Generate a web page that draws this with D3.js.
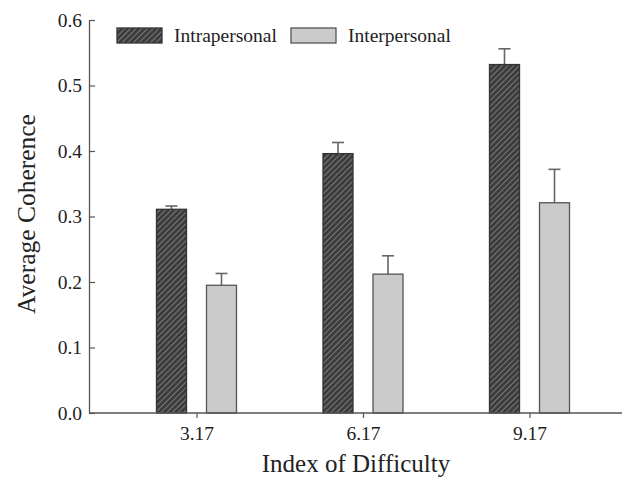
<!DOCTYPE html>
<html>
<head>
<meta charset="utf-8">
<script src="https://cdn.jsdelivr.net/npm/d3@7"></script>
<style>
  body { margin: 0; background: #fff; }
  text { font-family: "Liberation Serif", "Times New Roman", serif; fill: #222; }
</style>
</head>
<body>
<div id="chart"></div>
<script>
// Chart data
var categories = ["3.17", "6.17", "9.17"];
var seriesNames = ["Intrapersonal", "Interpersonal"];
var intraValues = [0.311, 0.396, 0.532];
var intraErrors = [0.005, 0.017, 0.024];
var interValues = [0.195, 0.212, 0.321];
var interErrors = [0.018, 0.028, 0.051];
var yTicks = [0.0, 0.1, 0.2, 0.3, 0.4, 0.5, 0.6];

var svgWidth = 637;
var svgHeight = 482;

var margin = { top: 20, right: 15, bottom: 69, left: 89 };
var chartWidth = svgWidth - margin.left - margin.right;
var chartHeight = svgHeight - margin.top - margin.bottom;

var svg = d3.select("#chart").append("svg")
            .attr("width", svgWidth)
            .attr("height", svgHeight);

// hatch pattern for the intrapersonal bars
var defs = svg.append("defs");
var pattern = defs.append("pattern")
                  .attr("id", "hatch")
                  .attr("patternUnits", "userSpaceOnUse")
                  .attr("width", 4)
                  .attr("height", 4)
                  .attr("patternTransform", "rotate(45)");
pattern.append("rect")
       .attr("width", 4).attr("height", 4)
       .attr("fill", "#3c3c3c");
pattern.append("line")
       .attr("x1", 0).attr("y1", 0)
       .attr("x2", 0).attr("y2", 4)
       .attr("stroke", "#8a8a8a")
       .attr("stroke-width", 1.6);

var chartGroup = svg.append("g")
                    .attr("transform", `translate(${margin.left}, ${margin.top})`);

// Scales
var xScale = d3.scalePoint()
               .domain(categories)
               .range([107.5, 440.5]);
var yScale = d3.scaleLinear()
               .domain([0, 0.6])
               .range([chartHeight, 0]);

var barWidth = 30;
var offset = 25;

var data = categories.map(function(c, i) {
  return [
    { cat: c, key: seriesNames[0], value: intraValues[i], err: intraErrors[i], dx: -offset },
    { cat: c, key: seriesNames[1], value: interValues[i], err: interErrors[i], dx: offset }
  ];
}).flat();

var fillFor = function(key) { return key === "Intrapersonal" ? "url(#hatch)" : "#cbcbcb"; };
var strokeFor = function(key) { return key === "Intrapersonal" ? "#333" : "#555"; };

// Error bars (drawn first, bar covers the lower half)
var errGroup = chartGroup.selectAll(".err")
                         .data(data)
                         .enter()
                         .append("g")
                         .classed("err", true);
errGroup.append("line")
        .attr("x1", d => xScale(d.cat) + d.dx)
        .attr("x2", d => xScale(d.cat) + d.dx)
        .attr("y1", d => yScale(d.value))
        .attr("y2", d => yScale(d.value + d.err))
        .attr("stroke", "#666")
        .attr("stroke-width", 1.6);
errGroup.append("line")
        .attr("x1", d => xScale(d.cat) + d.dx - 6)
        .attr("x2", d => xScale(d.cat) + d.dx + 6)
        .attr("y1", d => yScale(d.value + d.err))
        .attr("y2", d => yScale(d.value + d.err))
        .attr("stroke", "#666")
        .attr("stroke-width", 1.6);

// Bars
chartGroup.selectAll(".bar")
          .data(data)
          .enter()
          .append("rect")
          .classed("bar", true)
          .attr("x", d => xScale(d.cat) + d.dx - barWidth / 2)
          .attr("y", d => yScale(d.value))
          .attr("width", barWidth)
          .attr("height", d => chartHeight - yScale(d.value))
          .attr("fill", d => fillFor(d.key))
          .attr("stroke", d => strokeFor(d.key))
          .attr("stroke-width", 1.3);

// Y axis, ticks pointing inward
var yAxis = chartGroup.append("g")
                      .call(d3.axisLeft(yScale)
                              .tickValues(yTicks)
                              .tickFormat(d3.format(".1f"))
                              .tickSizeInner(-6)
                              .tickSizeOuter(0)
                              .tickPadding(7));
yAxis.select(".domain").attr("stroke", "#555").attr("stroke-width", 1.3);
yAxis.selectAll(".tick line").attr("stroke", "#555").attr("stroke-width", 1.2);
yAxis.selectAll("text")
     .attr("font-size", "19.5px")
     .attr("fill", "#222");

// X axis, line runs across the whole plot width
var xAxis = chartGroup.append("g")
                      .attr("transform", `translate(0, ${chartHeight})`)
                      .call(d3.axisBottom(xScale)
                              .tickSizeInner(5)
                              .tickSizeOuter(0)
                              .tickPadding(8));
xAxis.select(".domain")
     .attr("d", `M0,0H${chartWidth}`)
     .attr("stroke", "#555")
     .attr("stroke-width", 1.3);
xAxis.selectAll(".tick line").attr("stroke", "#555").attr("stroke-width", 1.2);
xAxis.selectAll("text")
     .attr("font-size", "19.5px")
     .attr("fill", "#222");

// Axis titles
chartGroup.append("text")
          .attr("x", 356 - margin.left)
          .attr("y", chartHeight + 59)
          .attr("text-anchor", "middle")
          .attr("font-size", "25px")
          .text("Index of Difficulty");

chartGroup.append("text")
          .attr("transform", "rotate(-90)")
          .attr("x", -(214 - margin.top))
          .attr("y", 35 - margin.left)
          .attr("text-anchor", "middle")
          .attr("font-size", "25.5px")
          .text("Average Coherence");

// Legend
var legend = svg.append("g");
var legendItems = [
  { key: seriesNames[0], x: 117 },
  { key: seriesNames[1], x: 291 }
];
legendItems.forEach(function(item) {
  legend.append("rect")
        .attr("x", item.x)
        .attr("y", 28)
        .attr("width", 45)
        .attr("height", 15)
        .attr("fill", fillFor(item.key))
        .attr("stroke", strokeFor(item.key))
        .attr("stroke-width", 1.3);
  legend.append("text")
        .attr("x", item.x + 57)
        .attr("y", 42)
        .attr("font-size", "19.5px")
        .text(item.key);
});
</script>
</body>
</html>
